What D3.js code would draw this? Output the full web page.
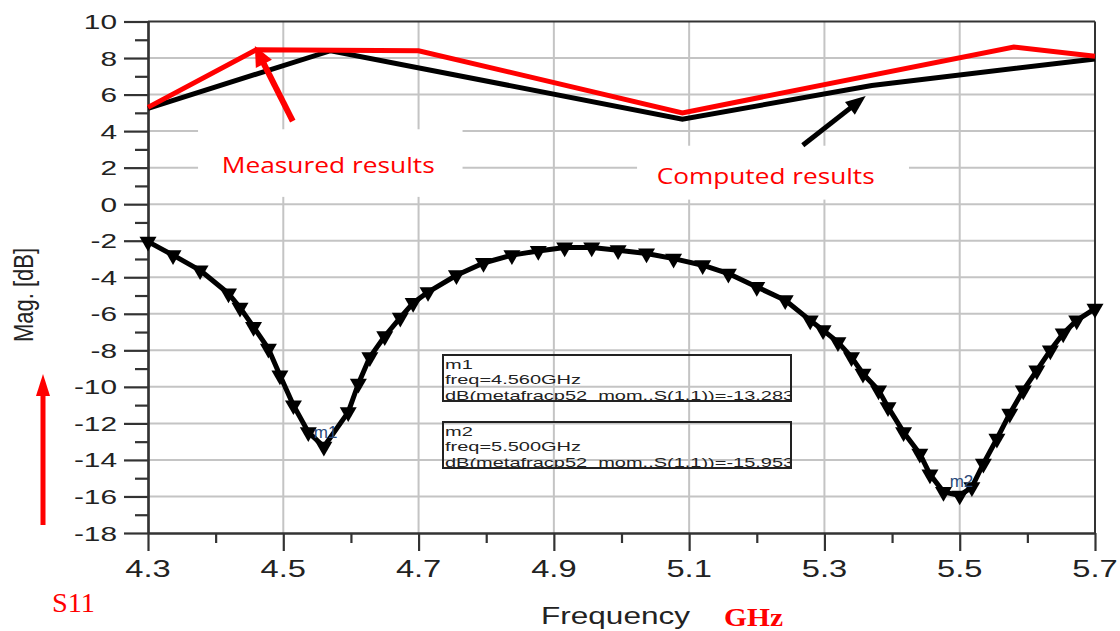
<!DOCTYPE html>
<html>
<head>
<meta charset="utf-8">
<script src="https://cdn.jsdelivr.net/npm/d3@7"></script>
<style>
  html, body { margin: 0; padding: 0; background: #fff; }
  svg { display: block; }
</style>
</head>
<body>
<svg id="chart" width="1120" height="631"></svg>
<script>
// S11 sweep (simulated, momentum), frequency in GHz, magnitude in dB
const s11Freq = [4.300, 4.337, 4.377, 4.419, 4.436, 4.456, 4.478, 4.495, 4.515, 4.537, 4.560,
  4.596, 4.611, 4.628, 4.650, 4.673, 4.692, 4.714, 4.756, 4.796, 4.838, 4.877, 4.916, 4.956,
  4.995, 5.037, 5.077, 5.120, 5.158, 5.200, 5.242, 5.279, 5.298, 5.320, 5.340, 5.357, 5.380,
  5.394, 5.417, 5.441, 5.456, 5.476, 5.500, 5.518, 5.535, 5.555, 5.574, 5.594, 5.614, 5.634,
  5.653, 5.673, 5.700];
const s11Mag = [-2.05, -2.79, -3.62, -4.89, -5.66, -6.72, -7.91, -9.37, -11.01, -12.48, -13.28,
  -11.38, -9.83, -8.37, -7.23, -6.21, -5.41, -4.81, -3.89, -3.22, -2.79, -2.56, -2.37, -2.37,
  -2.52, -2.70, -2.98, -3.34, -3.80, -4.53, -5.26, -6.36, -6.90, -7.55, -8.37, -9.28, -10.19,
  -11.11, -12.48, -13.66, -14.79, -15.75, -15.95, -15.49, -14.21, -12.84, -11.47, -10.19, -9.10,
  -8.00, -7.08, -6.36, -5.72];

// Gain traces in dB
const computedFreq = [4.30, 4.57, 5.09, 5.37, 5.70];
const computedGain = [5.25, 8.40, 4.65, 6.50, 7.95];
const measuredFreq = [4.30, 4.46, 4.70, 5.09, 5.58, 5.70];
const measuredGain = [5.30, 8.45, 8.40, 5.00, 8.60, 8.10];

// Axis ticks
const xMajorTicks = [4.3, 4.5, 4.7, 4.9, 5.1, 5.3, 5.5, 5.7];
const xMinorTicks = [4.4, 4.6, 4.8, 5.0, 5.2, 5.4, 5.6];
const yMajorTicks = [10, 8, 6, 4, 2, 0, -2, -4, -6, -8, -10, -12, -14, -16, -18];
const yMinorTicks = [9, 7, 5, 3, 1, -1, -3, -5, -7, -9, -11, -13, -15, -17];

// Marker read-outs
const markers = [
  { name: "m1", freq: 4.56, value: -13.283, text: "freq=4.560GHz", expr: "dB(metafracp52_mom..S(1,1))=-13.283" },
  { name: "m2", freq: 5.50, value: -15.953, text: "freq=5.500GHz", expr: "dB(metafracp52_mom..S(1,1))=-15.953" }
];

const svg = d3.select("#chart");
const plotL = 148, plotR = 1095, plotT = 21.5, plotB = 533;
const x = d3.scaleLinear().domain([4.3, 5.7]).range([plotL, plotR]);
const y = d3.scaleLinear().domain([-18, 10]).range([plotB, plotT]);

const SX = 1.42; // glyphs are drawn horizontally widened
const axisColor = "#333";
const gridColor = "#c4c4c4";

// Grid
const grid = svg.append("g");
grid.selectAll(".gx").data(xMajorTicks.slice(1, -1)).join("line")
  .attr("x1", d => x(d)).attr("x2", d => x(d)).attr("y1", plotT).attr("y2", plotB)
  .attr("stroke", gridColor).attr("stroke-width", 2);
grid.selectAll(".gy").data(yMajorTicks.slice(1, -1)).join("line")
  .attr("x1", plotL).attr("x2", plotR).attr("y1", d => y(d)).attr("y2", d => y(d))
  .attr("stroke", gridColor).attr("stroke-width", 2);

// Frame (top and right)
svg.append("line").attr("x1", plotL).attr("x2", plotR).attr("y1", plotT).attr("y2", plotT)
  .attr("stroke", axisColor).attr("stroke-width", 2);
svg.append("line").attr("x1", plotR).attr("x2", plotR).attr("y1", plotT).attr("y2", plotB)
  .attr("stroke", axisColor).attr("stroke-width", 2);

// Axes
function styleAxis(g) {
  g.select(".domain").attr("stroke", axisColor).attr("stroke-width", 2.2);
  g.selectAll(".tick line").attr("stroke", axisColor).attr("stroke-width", 2.2);
  g.selectAll(".tick text").remove();
}
svg.append("g").attr("transform", `translate(${plotL},0)`)
  .call(d3.axisLeft(y).tickValues(yMinorTicks).tickSize(13).tickSizeOuter(0)).call(styleAxis);
svg.append("g").attr("transform", `translate(${plotL},0)`)
  .call(d3.axisLeft(y).tickValues(yMajorTicks).tickSize(24).tickSizeOuter(0)).call(styleAxis);
svg.append("g").attr("transform", `translate(0,${plotB})`)
  .call(d3.axisBottom(x).tickValues(xMinorTicks).tickSize(10).tickSizeOuter(0)).call(styleAxis);
svg.append("g").attr("transform", `translate(0,${plotB})`)
  .call(d3.axisBottom(x).tickValues(xMajorTicks).tickSize(18).tickSizeOuter(0)).call(styleAxis);

// Tick labels
svg.append("g").selectAll("text").data(yMajorTicks).join("text")
  .attr("transform", d => `translate(117,${y(d)}) scale(${SX},1)`)
  .attr("text-anchor", "end").attr("dy", "0.36em")
  .attr("font-family", "Liberation Sans, Arial, sans-serif").attr("font-size", 21)
  .attr("fill", "#222").text(d => d);
svg.append("g").selectAll("text").data(xMajorTicks).join("text")
  .attr("transform", d => `translate(${x(d)},577) scale(${SX},1)`)
  .attr("text-anchor", "middle")
  .attr("font-family", "Liberation Sans, Arial, sans-serif").attr("font-size", 23)
  .attr("fill", "#222").text(d => d3.format(".1f")(d));

// Axis titles
svg.append("text").attr("transform", `translate(33,295) scale(1.25,1) rotate(-90)`)
  .attr("text-anchor", "middle")
  .attr("font-family", "Liberation Sans, Arial, sans-serif").attr("font-size", 22)
  .attr("fill", "#222").text("Mag. [dB]");
svg.append("text").attr("x", 541).attr("y", 624)
  .attr("textLength", 149).attr("lengthAdjust", "spacingAndGlyphs")
  .attr("font-family", "Liberation Sans, Arial, sans-serif").attr("font-size", 23)
  .attr("fill", "#222").text("Frequency");
svg.append("text").attr("x", 724).attr("y", 626)
  .attr("textLength", 59).attr("lengthAdjust", "spacingAndGlyphs")
  .attr("font-family", "Liberation Serif, Times New Roman, serif").attr("font-weight", "bold")
  .attr("font-size", 26).attr("fill", "#ff0000").text("GHz");
svg.append("text").attr("x", 52).attr("y", 612)
  .attr("textLength", 43).attr("lengthAdjust", "spacingAndGlyphs")
  .attr("font-family", "Liberation Serif, Times New Roman, serif")
  .attr("font-size", 27).attr("fill", "#ff0000").text("S11");

// Vertical red arrow beside the S11 label
svg.append("line").attr("x1", 43).attr("x2", 43).attr("y1", 525).attr("y2", 392)
  .attr("stroke", "#ff0000").attr("stroke-width", 5);
svg.append("path").attr("d", "M43,374 L36,396 L50,396 Z").attr("fill", "#ff0000");

// Label backdrops (hide grid behind callout text)
const labelBoxes = [
  { f0: 4.374, f1: 4.765, d0: 4.10, d1: 0.40 },
  { f0: 5.023, f1: 5.425, d0: 3.20, d1: 0.25 }
];
svg.append("g").selectAll("rect").data(labelBoxes).join("rect")
  .attr("x", d => x(d.f0)).attr("width", d => x(d.f1) - x(d.f0))
  .attr("y", d => y(d.d0)).attr("height", d => y(d.d1) - y(d.d0))
  .attr("fill", "#fff");

// Gain traces
const traceLine = d3.line().x(d => x(d[0])).y(d => y(d[1]));
svg.append("path").datum(d3.zip(computedFreq, computedGain)).attr("d", traceLine)
  .attr("fill", "none").attr("stroke", "#000").attr("stroke-width", 5).attr("stroke-linejoin", "miter");
svg.append("path").datum(d3.zip(measuredFreq, measuredGain)).attr("d", traceLine)
  .attr("fill", "none").attr("stroke", "#ff0000").attr("stroke-width", 5).attr("stroke-linejoin", "miter");

// Callout arrows
function arrow(g, f0, d0, f1, d1, color, w, headLen, headW) {
  const x0 = x(f0), y0 = y(d0), x1 = x(f1), y1 = y(d1);
  const ang = Math.atan2(y1 - y0, x1 - x0);
  const bx = x1 - headLen * Math.cos(ang), by = y1 - headLen * Math.sin(ang);
  const px = -Math.sin(ang) * headW / 2, py = Math.cos(ang) * headW / 2;
  g.append("line").attr("x1", x0).attr("y1", y0).attr("x2", bx + Math.cos(ang) * 2).attr("y2", by + Math.sin(ang) * 2)
    .attr("stroke", color).attr("stroke-width", w);
  g.append("path").attr("d", `M${x1},${y1} L${bx + px},${by + py} L${bx - px},${by - py} Z`).attr("fill", color);
}
const arrows = svg.append("g");
arrow(arrows, 4.514, 4.55, 4.458, 8.66, "#ff0000", 6, 20, 18);
arrow(arrows, 5.268, 3.23, 5.361, 5.92, "#000", 5, 20, 16);

// Callout labels
svg.append("text").attr("x", x(4.409)).attr("y", y(1.70))
  .attr("textLength", 213).attr("lengthAdjust", "spacingAndGlyphs")
  .attr("font-family", "Open Sans, Lato, sans-serif").attr("font-size", 22)
  .attr("fill", "#ff0000").text("Measured results");
svg.append("text").attr("x", x(5.052)).attr("y", y(1.13))
  .attr("textLength", 218).attr("lengthAdjust", "spacingAndGlyphs")
  .attr("font-family", "Open Sans, Lato, sans-serif").attr("font-size", 22)
  .attr("fill", "#ff0000").text("Computed results");

// S11 trace with triangle markers
const s11 = d3.zip(s11Freq, s11Mag);
svg.append("path").datum(s11).attr("d", traceLine)
  .attr("fill", "none").attr("stroke", "#000").attr("stroke-width", 5).attr("stroke-linejoin", "round");
svg.append("g").selectAll("path").data(s11).join("path")
  .attr("transform", d => `translate(${x(d[0])},${y(d[1])}) rotate(180)`)
  .attr("d", d3.symbol(d3.symbolTriangle, 125))
  .attr("fill", "#000");

// Marker tags on the curve
svg.append("g").selectAll("text").data(markers).join("text")
  .attr("x", d => x(d.freq) - 10).attr("y", d => y(d.value) - 9)
  .attr("font-family", "Liberation Sans, Arial, sans-serif").attr("font-size", 17)
  .attr("fill", "#2b4a7a").text(d => d.name);

// Marker read-out boxes
const boxW = 348, boxH = 46, boxX = 443;
const boxY = [355, 422];
const defs = svg.append("defs");
markers.forEach((m, i) => {
  defs.append("clipPath").attr("id", "clip" + i).append("rect")
    .attr("x", boxX).attr("y", boxY[i]).attr("width", boxW).attr("height", boxH);
  const g = svg.append("g");
  g.append("rect").attr("x", boxX).attr("y", boxY[i]).attr("width", boxW).attr("height", boxH)
    .attr("fill", "none").attr("stroke", "#222").attr("stroke-width", 2);
  const t = g.append("g").attr("clip-path", `url(#clip${i})`);
  [m.name, m.text, m.expr].forEach((s, k) => {
    t.append("text").attr("transform", `translate(${boxX + 2},${boxY[i] + 13.5 + k * 15.5}) scale(1.48,1)`)
      .attr("font-family", "Liberation Sans, Arial, sans-serif").attr("font-size", 13.5)
      .attr("fill", "#222").text(s);
  });
});
</script>
</body>
</html>
